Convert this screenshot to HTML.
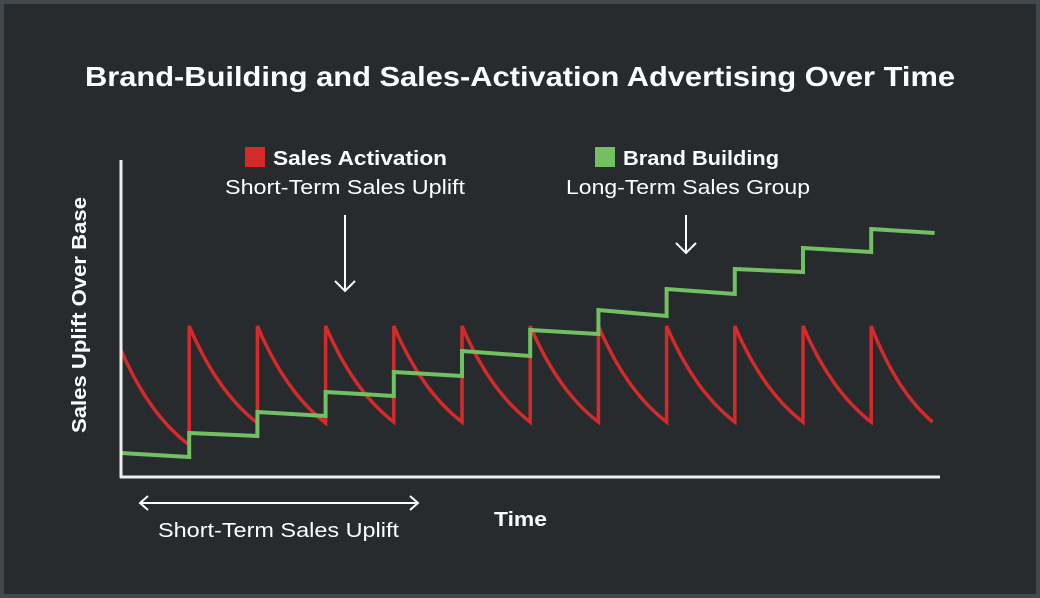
<!DOCTYPE html>
<html><head><meta charset="utf-8"><style>
html,body{margin:0;padding:0;background:#272b2e;}
svg{display:block;font-family:"Liberation Sans",sans-serif;}
</style></head><body>
<svg id="chart" width="1040" height="598" viewBox="0 0 1040 598">
<rect x="2" y="2" width="1036" height="594" fill="#272b2e" stroke="#43484c" stroke-width="4"/>
<text x="85" y="86" textLength="870" lengthAdjust="spacingAndGlyphs" fill="#fff" font-size="28" font-weight="bold">Brand-Building and Sales-Activation Advertising Over Time</text>
<g>
<rect x="245" y="147" width="20" height="20" fill="#d42a2a"/>
<text x="273" y="165" textLength="174" lengthAdjust="spacingAndGlyphs" fill="#fff" font-size="20" font-weight="bold">Sales Activation</text>
<text x="225" y="194" textLength="240" lengthAdjust="spacingAndGlyphs" fill="#fff" font-size="20">Short-Term Sales Uplift</text>
<g stroke="#fff" stroke-width="2" fill="none"><line x1="345" y1="215" x2="345" y2="291"/><polyline points="335,281 345,291 355,281"/></g>
</g>
<g>
<rect x="595" y="147" width="20" height="20" fill="#72c062"/>
<text x="623" y="165" textLength="156" lengthAdjust="spacingAndGlyphs" fill="#fff" font-size="20" font-weight="bold">Brand Building</text>
<text x="566" y="194" textLength="244" lengthAdjust="spacingAndGlyphs" fill="#fff" font-size="20">Long-Term Sales Group</text>
<g stroke="#fff" stroke-width="2" fill="none"><line x1="686" y1="215" x2="686" y2="253"/><polyline points="676,243 686,253 696,243"/></g>
</g>
<text transform="translate(86,315) rotate(-90)" text-anchor="middle" textLength="236" lengthAdjust="spacingAndGlyphs" fill="#fff" font-size="20" font-weight="bold">Sales Uplift Over Base</text>
<text x="494" y="526" textLength="53" lengthAdjust="spacingAndGlyphs" fill="#fff" font-size="20" font-weight="bold">Time</text>
<g stroke="#fff" stroke-width="2" fill="none"><line x1="140" y1="503" x2="418" y2="503"/><polyline points="148,496 140,503 148,510"/><polyline points="410,496 418,503 410,510"/></g>
<text x="158" y="537" textLength="241" lengthAdjust="spacingAndGlyphs" fill="#fff" font-size="20">Short-Term Sales Uplift</text>
<g id="plot"></g>
<line x1="121" y1="160" x2="121" y2="478" stroke="#eee" stroke-width="3"/>
<line x1="120" y1="477" x2="940" y2="477" stroke="#eee" stroke-width="3"/>
</svg>
<script>
// time of each red spike (cycle index)
const spikeTimes = [1,2,3,4,5,6,7,8,9,10,11];
const redPeak = [151,151,151,151,151,151,151,151,151,151,151];
const redTrough = [32,54,54,55,55,55,55,55,55,55,55];
const redStart = 127;
const endTime = 11.9;
const endRed = 55;
// green step levels (start, end) per segment
const greenStart = [24,44,65,85,105,126,147,167,188,208,229,248];
const greenEnd   = [20,41,61,81,101,121,143,161,183,205,225,244];

const x = t => 121 + t*68.2;
const y = v => 477 - v;
const NS = "http://www.w3.org/2000/svg";
const plot = document.getElementById('plot');

let d = "";
function decay(t0,t1,v0,v1,first){
  const n=30;
  for(let i=0;i<=n;i++){
    const f=i/n;
    const w=(1-Math.exp(-1.1*f))/(1-Math.exp(-1.1));
    const v=v0+(v1-v0)*w;
    d += (first&&i===0?"M":"L")+x(t0+(t1-t0)*f).toFixed(1)+","+y(v).toFixed(1)+" ";
  }
}
decay(0,spikeTimes[0],redStart,redTrough[0],true);
for(let i=0;i<spikeTimes.length;i++){
  const t0=spikeTimes[i];
  const t1=i+1<spikeTimes.length?spikeTimes[i+1]:endTime;
  const v1=i+1<spikeTimes.length?redTrough[i+1]:endRed;
  d += "L"+x(t0)+","+y(redPeak[i])+" ";
  decay(t0,t1,redPeak[i],v1,false);
}
const red=document.createElementNS(NS,'path');
red.setAttribute('d',d);
red.setAttribute('fill','none');
red.setAttribute('stroke','#d42a2a');
red.setAttribute('stroke-width','3.5');


plot.appendChild(red);

let g="";
for(let i=0;i<greenStart.length;i++){
  const t0=i===0?0:spikeTimes[i-1];
  const t1=i<spikeTimes.length?spikeTimes[i]:endTime+0.03;
  g += (i===0?"M":"L")+x(t0)+","+y(greenStart[i])+" L"+x(t1)+","+y(greenEnd[i])+" ";
}
const green=document.createElementNS(NS,'path');
green.setAttribute('d',g);
green.setAttribute('fill','none');
green.setAttribute('stroke','#72c062');
green.setAttribute('stroke-width','4');


plot.appendChild(green);
</script>
</body></html>
